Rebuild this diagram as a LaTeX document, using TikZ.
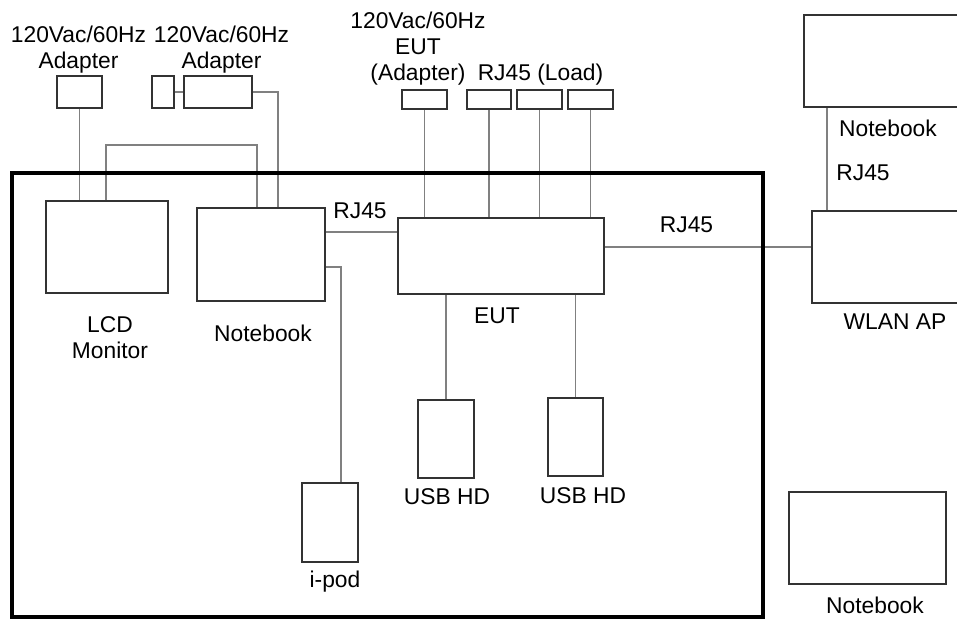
\documentclass[tikz,border=0pt]{standalone}
\usepackage{fontspec}
\setmainfont{Liberation Sans}
\usetikzlibrary{calc}

\begin{document}
\begin{tikzpicture}[x=0.5pt, y=-0.5pt,
  dev/.style 2 args={draw=black!80, line width=0.9pt, rectangle, inner sep=0pt,
    minimum width=#1*0.5pt, minimum height=#2*0.5pt},
  wire/.style={draw=black!50, line width=0.75pt},
  lbl/.style={font=\fontsize{11.4}{13}\selectfont, align=center, inner sep=0pt}]
\useasboundingbox (0,0) rectangle (957,619);
\clip (0,0) rectangle (957,619);

% Adapters
\node[dev={45}{32}] (adpA) at (79.5,92) {};
\node[dev={22}{32}] (plug) at (163,92) {};
\node[dev={68}{32}] (adpB) at (218,92) {};
\node[lbl] (adpAtxt) at (78.5,49.5) {120Vac/60Hz\\Adapter};
\node[lbl] (adpBtxt) at (221.5,49.5) {120Vac/60Hz\\Adapter};

% EUT adapter and loads
\node[dev={45}{19}] (eutAdp) at (424.5,99.5) {};
\node[dev={44}{19}] (rjA) at (489,99.5) {};
\node[dev={45}{19}] (rjB) at (539.5,99.5) {};
\node[dev={45}{19}] (rjC) at (590.5,99.5) {};
\node[lbl] (eutAdptxt) at (418,48.5) {120Vac/60Hz\\EUT\\(Adapter)};
\node[lbl] (rjtxt) at (540.5,75) {RJ45 (Load)};

% Devices on the table
\node[dev={122}{92}] (lcd) at (107,247) {};
\node[dev={128}{93}] (nb) at (261,254.5) {};
\node[dev={206}{76}] (eut) at (501,256) {};
\node[dev={56}{79}] (ipod) at (330,522.5) {};
\node[dev={56}{78}] (usbA) at (446,439) {};
\node[dev={55}{78}] (usbB) at (575.5,437) {};
\node[lbl] (lcdtxt) at (110,338) {LCD\\Monitor};
\node[lbl] (nbtxt) at (263,333) {Notebook};
\node[lbl] (euttxt) at (497,316) {EUT};
\node[lbl] (ipodtxt) at (335,582) {i-pod};
\node[lbl] (usbAtxt) at (447,497) {USB HD};
\node[lbl] (usbBtxt) at (583,496) {USB HD};
\node[lbl] (rjNtxt) at (360,211) {RJ45};

% Outside the table
\node[dev={171}{92}] (nbT) at (889.5,61) {};
\node[dev={163}{92}] (wlan) at (893.5,257) {};
\node[dev={157}{92}] (nbB) at (867.5,538) {};
\node[lbl] (nbTtxt) at (888,128) {Notebook};
\node[lbl] (rjTtxt) at (863,173) {RJ45};
\node[lbl] (wlantxt) at (895,322) {WLAN AP};
\node[lbl] (nbBtxt) at (875,605) {Notebook};
\node[lbl] (rjWtxt) at (686.5,225) {RJ45};

% Power cables
\draw[wire] (adpA.south) -- (adpA.south |- lcd.north);
\draw[wire] (plug.east) -- (adpB.west);
\draw[wire] (adpB.east) -| ([xshift=41pt]nb.north west);
\draw[wire] ([xshift=30.5pt]lcd.north west) -- ++(0,-55) -| ([xshift=30.5pt]nb.north west);
\draw[wire] (eutAdp.south) -- (eutAdp.south |- eut.north);

% LAN and USB cables
\foreach \p in {rjA,rjB,rjC}
  \draw[wire] (\p.south) -- (\p.south |- eut.north);
\draw[wire] ([yshift=11.25pt]nb.east) coordinate (n1) -- (n1 -| eut.west);
\draw[wire] ([yshift=-6.25pt]nb.east) -| ([xshift=5.5pt]ipod.north);
\draw[wire] (usbA.north) -- (usbA.north |- eut.south);
\draw[wire] (usbB.north) -- (usbB.north |- eut.south);
\draw[wire] ([yshift=4.5pt]eut.east) coordinate (e1) -- (e1 -| wlan.west);
\draw[wire] ([xshift=12pt]nbT.south west) coordinate (w1) -- (w1 |- wlan.north);

% Table
\draw[line width=2pt] (12,173) rectangle (763,617);

\end{tikzpicture}
\end{document}
